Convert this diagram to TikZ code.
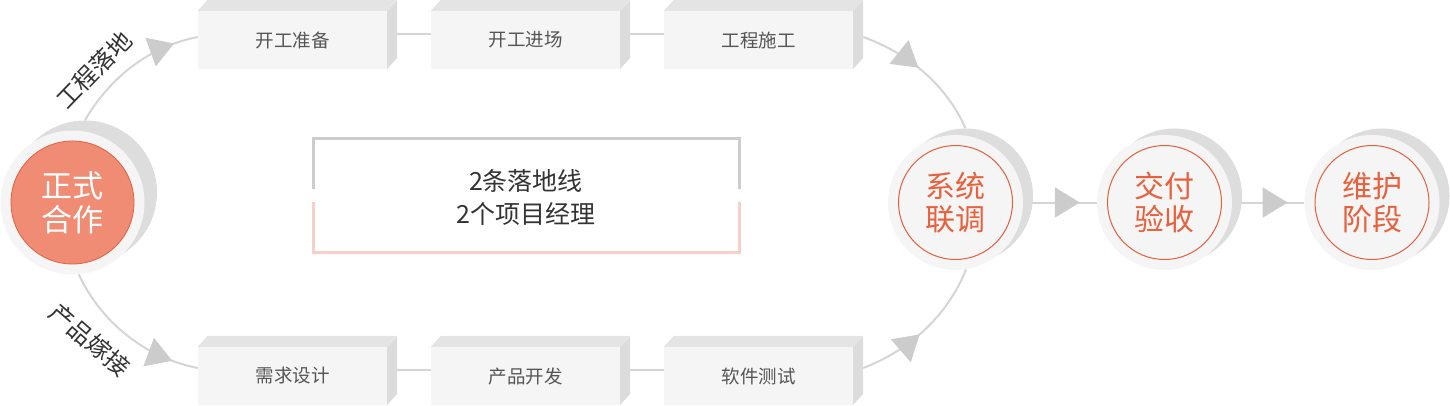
\documentclass[tikz,border=0pt]{standalone}
\usepackage{fontspec}
\setmainfont{Noto Sans CJK SC}
\usetikzlibrary{arrows.meta,decorations.markings,calc}
\definecolor{linec}{HTML}{D5D5D5}
\definecolor{tric}{HTML}{CCCCCC}
\definecolor{boxf}{HTML}{F5F5F5}
\definecolor{boxtop}{HTML}{E4E4E4}
\definecolor{boxside}{HTML}{DCDCDC}
\definecolor{boxt}{HTML}{555555}
\definecolor{shadowc}{HTML}{DDDDDD}
\definecolor{lightc}{HTML}{F5F5F5}
\definecolor{orfill}{HTML}{F08B74}
\definecolor{orline}{HTML}{E2603E}
\definecolor{ortext}{HTML}{E8603C}
\definecolor{grayb}{HTML}{CCCCCC}
\definecolor{pinkb}{HTML}{F8CFC6}
\definecolor{labt}{HTML}{333333}
\pgfdeclarelayer{bg}
\pgfsetlayers{bg,main}
\tikzset{
  boxfront/.style={fill=boxf, minimum width=189pt, minimum height=58pt, inner sep=0pt,
    font=\fontsize{18.5}{20}\selectfont, text=boxt},
  conn/.style={draw=linec, line width=2pt},
  arcarrow/.style={draw=linec, line width=2pt, postaction={decorate},
    decoration={markings, mark=at position #1 with {\arrow{Triangle[length=25pt,width=30pt,color=tric]}}}},
  shadowcirc/.style={circle, fill=shadowc, minimum size=#1, inner sep=0pt},
  lightcirc/.style={circle, fill=lightc, minimum size=#1, inner sep=0pt},
  innercirc/.style={circle, draw=orline, line width=1pt, fill=lightc, minimum size=114pt, inner sep=0pt,
    text=ortext, align=center, font=\fontsize{30}{33}\selectfont},
  arclabel/.style={text=labt, font=\fontsize{24}{26}\selectfont, inner sep=0pt},
}
\newcommand\cubefaces[1]{%
  \fill[boxtop] (#1.north west) -- ++(10,11) -- ++(189,0) -- ++(-10,-11) -- cycle;
  \fill[boxside] (#1.north east) -- ++(10,11) -- ++(0,-58) -- ++(-10,-11) -- cycle;
}
\begin{document}
\begin{tikzpicture}[x=1pt,y=1pt]
\useasboundingbox (0,0) rectangle (1450,405);

% boxes
\node[boxfront] (b1) at (292.5,365) {开工准备};
\node[boxfront] (b2) at (525.5,365) {开工进场};
\node[boxfront] (b3) at (758.5,365) {工程施工};
\node[boxfront] (b4) at (292.5,29) {需求设计};
\node[boxfront] (b5) at (525.5,29) {产品开发};
\node[boxfront] (b6) at (758.5,29) {软件测试};
\cubefaces{b1}\cubefaces{b2}\cubefaces{b3}
\cubefaces{b4}\cubefaces{b5}\cubefaces{b6}

% left circle
\node[shadowcirc=144pt] (ls) at (85,212.5) {};
\node[lightcirc=144pt] (lo) at (72.5,202.5) {};
\node[circle, fill=orfill, draw=orline, line width=0.8pt, minimum size=123pt, inner sep=0pt,
  text=white, align=center, font=\fontsize{31}{34}\selectfont] (lc) at (72.5,202.5) {正式\\合作};

% right circles
\node[shadowcirc=135pt] (s1) at (965.5,209) {};
\node[lightcirc=135pt] (o1) at (955.5,202.5) {};
\node[innercirc] (c1) at (955.5,202.5) {系统\\联调};
\node[shadowcirc=135pt] (s2) at (1174.5,209) {};
\node[lightcirc=135pt] (o2) at (1164.5,202.5) {};
\node[innercirc] (c2) at (1164.5,202.5) {交付\\验收};
\node[shadowcirc=135pt] (s3) at (1382,209) {};
\node[lightcirc=135pt] (o3) at (1372,202.5) {};
\node[innercirc] (c3) at (1372,202.5) {维护\\阶段};

% center text
\node[text=labt, align=center, font=\fontsize{25}{33}\selectfont] (mid) at (526,208) {2条落地线\\2个项目经理};
\draw[grayb, line width=3pt] (313,216) -- (313,266) -- (739,266) -- (739,216);
\draw[pinkb, line width=3pt] (313,203) -- (313,153) -- (739,153) -- (739,203);

% arc labels
\node[arclabel, rotate=46] (lt) at (94,335) {工程落地};
\node[arclabel, rotate=-41] (lb) at (90,65) {产品嫁接};

\begin{pgfonlayer}{bg}
  \draw[conn] ([yshift=6pt]b1.east) -- ([yshift=6pt]b2.west);
  \draw[conn] ([yshift=6pt]b2.east) -- ([yshift=6pt]b3.west);
  \draw[conn] ([yshift=6pt]b4.east) -- ([yshift=6pt]b5.west);
  \draw[conn] ([yshift=6pt]b5.east) -- ([yshift=6pt]b6.west);
  \path[arcarrow=0.83] (ls.north) to[out=60,in=191,looseness=0.9] ([yshift=3pt]b1.west);
  \path[arcarrow=0.45] ([shift={(10pt,3pt)}]b3.east) to[out=-20,in=114,looseness=0.9] (s1.north);
  \path[arcarrow=0.83] (lo.-85) to[out=-65,in=169,looseness=0.9] ([yshift=8pt]b4.west);
  \path[arcarrow=0.45] ([shift={(10pt,8pt)}]b6.east) to[out=21,in=248,looseness=0.9] (o1.-81);
  \path[arcarrow=0.77] (o1.east) -- (o2.west);
  \path[arcarrow=0.77] (o2.east) -- (o3.west);
\end{pgfonlayer}
\end{tikzpicture}
\end{document}
